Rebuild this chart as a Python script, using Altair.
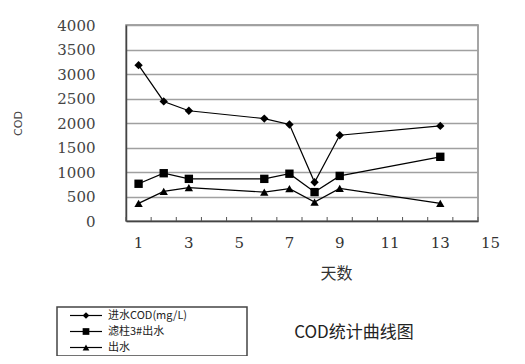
import altair as alt
import pandas as pd

# ---- data ----
days = [1, 2, 3, 6, 7, 8, 9, 13]
influent = [3180, 2440, 2250, 2090, 1970, 790, 1750, 1940]
filter3 = [760, 975, 860, 860, 965, 590, 920, 1310]
effluent = [360, 605, 680, 590, 660, 385, 665, 360]
series_names = ["进水COD(mg/L)", "滤柱3#出水", "出水"]
marker_shapes = ["diamond", "square", "triangle-up"]
x_labels = [1, 3, 5, 7, 9, 11, 13, 15]
x_tick_pos = [0.5 + i for i in range(15)]
y_ticks = list(range(0, 4001, 500))
chart_title = ["COD统计曲线图"]

rows = []
for name, vals in zip(series_names, [influent, filter3, effluent]):
    for d, v in zip(days, vals):
        rows.append({"series": name, "day": d, "cod": v})
df = pd.DataFrame(rows)
tick_df = pd.DataFrame({"day": x_tick_pos})
xlab_df = pd.DataFrame({"day": x_labels})
title_df = pd.DataFrame({"label": chart_title})

W, H = 352, 196
serif = "DejaVu Serif"
cjk = "Noto Sans CJK SC"

xscale = alt.Scale(domain=[0.5, 14.5], nice=False, zero=False)
yscale = alt.Scale(domain=[0, 4000], nice=False)

x_axis = alt.Axis(
    values=x_labels, grid=False, ticks=False, labels=False,
    domainColor="#444", domainWidth=1.5,
    title="天数", titleFont=cjk, titleFontSize=16, titleFontWeight="normal",
    titleColor="#333", titleX=210, titleY=52, titleBaseline="middle",
)
y_axis = alt.Axis(
    values=y_ticks, tickCount=9, format="d", grid=True, gridColor="#a0a0a0",
    gridWidth=1.5, ticks=False, domainColor="#444", domainWidth=1.5,
    labelFont=serif, labelFontSize=15, labelColor="#444", labelPadding=31,
    labelOverlap=False,
    title="COD", titleFont="DejaVu Sans", titleFontSize=11, titleFontWeight="normal",
    titleColor="#444", titleX=-108, titleY=98, titleBaseline="middle",
)

X = alt.X("day:Q", scale=xscale, axis=x_axis)
Y = alt.Y("cod:Q", scale=yscale, axis=y_axis)

base = alt.Chart(df)

lines = base.mark_line(color="black", strokeWidth=1.2).encode(
    x=X, y=Y, detail="series:N",
)

point_layers = [
    base.transform_filter(alt.datum.series == name).mark_point(
        shape=shp, filled=True, color="black", opacity=1, size=70
    ).encode(x=X, y=Y)
    for name, shp in zip(series_names, marker_shapes)
]

ticks = alt.Chart(tick_df).mark_rule(color="#555", strokeWidth=1).encode(
    x=X, y=alt.value(H), y2=alt.value(H - 4),
)

xlabels = alt.Chart(xlab_df).mark_text(
    font=serif, fontSize=15, color="#333", align="center", baseline="middle"
).encode(
    x=X, y=alt.value(H + 22),
    text=alt.Text("day:Q", format="d"),
)

title = alt.Chart(title_df).mark_text(
    font=cjk, fontSize=17, color="#222", align="center", baseline="middle"
).encode(
    text="label:N", x=alt.value(228), y=alt.value(308),
)

# ---- legend (drawn as a framed key below the plot) ----
LX0, LX1, LY0, LY1 = -69, 121, 282, 331
legend_box = alt.Chart(title_df).mark_rect(
    fill="white", stroke="#444", strokeWidth=1.5
).encode(x=alt.value(LX0), x2=alt.value(LX1), y=alt.value(LY0), y2=alt.value(LY1))

legend_layers = [legend_box]
for i, (name, shp) in enumerate(zip(series_names, marker_shapes)):
    ly = 290.5 + 16 * i
    item = alt.Chart(pd.DataFrame({"label": [name]}))
    legend_layers.append(
        item.mark_rule(color="black", strokeWidth=1.2).encode(
            x=alt.value(-56), x2=alt.value(-24), y=alt.value(ly))
    )
    legend_layers.append(
        item.mark_point(shape=shp, filled=True, color="black", opacity=1, size=45).encode(
            x=alt.value(-40), y=alt.value(ly))
    )
    legend_layers.append(
        item.mark_text(font=cjk, fontSize=11, color="#222", align="left",
                       baseline="middle").encode(
            text="label:N", x=alt.value(-18), y=alt.value(ly))
    )

chart = alt.layer(lines, ticks, *point_layers, xlabels, title, *legend_layers).properties(
    width=W, height=H,
    autosize=alt.AutoSizeParams(type="none"),
    padding={"left": 118, "top": 17, "right": 39, "bottom": 135},
    background="white",
).configure_view(stroke="#888", strokeWidth=1.5)

chart.save("out.html", embed_options={"renderer": "svg", "actions": False})
